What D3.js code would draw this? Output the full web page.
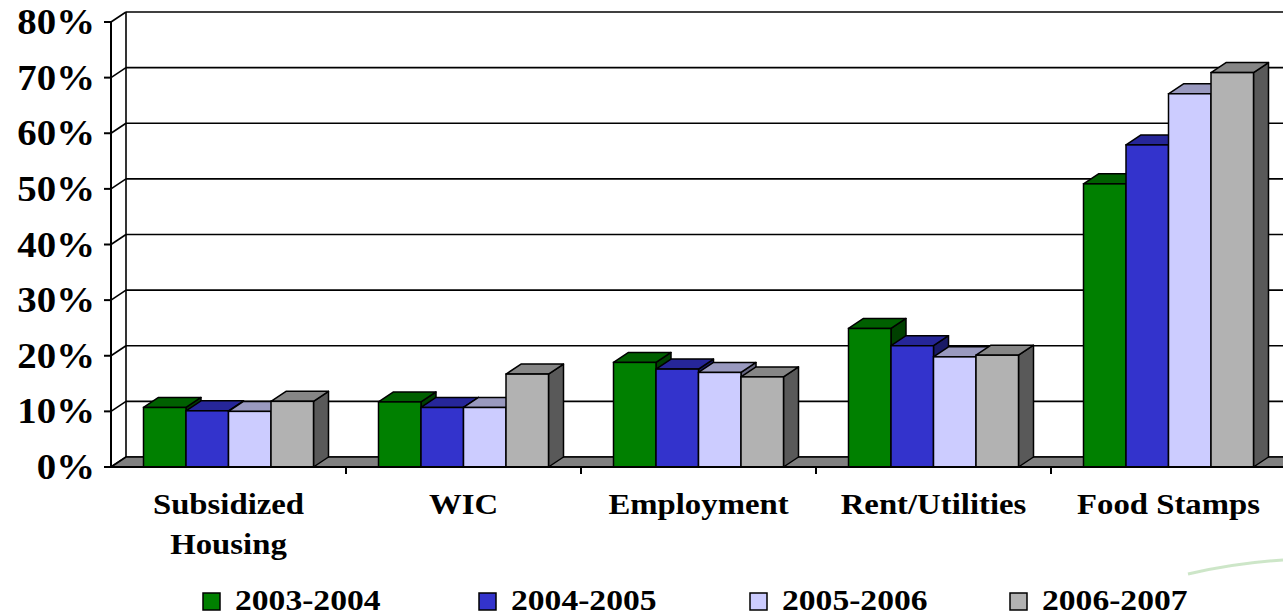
<!DOCTYPE html>
<html>
<head>
<meta charset="utf-8">
<script src="https://cdn.jsdelivr.net/npm/d3@7"></script>
<style>
  html, body { margin: 0; padding: 0; background: #fff; }
  svg { display: block; }
  text { font-family: "Times New Roman", Times, "Liberation Serif", Tinos, serif; font-weight: bold; fill: #000; }
</style>
</head>
<body>
<svg id="chart" width="1283" height="616"></svg>
<script>
const categories = ["Subsidized Housing", "WIC", "Employment", "Rent/Utilities", "Food Stamps"];
const categoryLines = [["Subsidized", "Housing"], ["WIC"], ["Employment"], ["Rent/Utilities"], ["Food Stamps"]];
const seriesNames = ["2003-2004", "2004-2005", "2005-2006", "2006-2007"];
const s2003 = [10.7, 11.7, 18.8, 24.9, 50.9];
const s2004 = [10.1, 10.7, 17.6, 21.8, 57.9];
const s2005 = [10.0, 10.7, 17.0, 19.8, 67.1];
const s2006 = [11.8, 16.7, 16.2, 20.1, 70.9];
const seriesValues = [s2003, s2004, s2005, s2006];
const yTicks = [0, 10, 20, 30, 40, 50, 60, 70, 80];
const colors = ["#008000", "#3333CC", "#CCCCFF", "#B2B2B2"];

const svg = d3.select("#chart");
const W = 1283;
const DX = 15, DY = 10;           // 3D depth offset
const y = d3.scaleLinear().domain([0, 80]).range([467, 22]);
const x0 = d3.scaleBand().domain(categories).range([111, 1286]);
const x1 = d3.scaleBand().domain(seriesNames).range([32.5, 202.5]);

function shade(c, k) {
  const r = d3.rgb(c);
  return d3.rgb(r.r * k, r.g * k, r.b * k).formatHex();
}

// back wall gridlines
const g = svg.append("g");
g.selectAll("line.grid").data(yTicks).join("line")
  .attr("x1", 111 + DX).attr("x2", W + 5)
  .attr("y1", d => y(d) - DY).attr("y2", d => y(d) - DY)
  .attr("stroke", "#000").attr("stroke-width", 1.6);
// back wall left edge
g.append("line").attr("x1", 111 + DX).attr("x2", 111 + DX)
  .attr("y1", y(80) - DY).attr("y2", y(0) - DY)
  .attr("stroke", "#000").attr("stroke-width", 1.6);
// side wall diagonals
g.selectAll("line.diag").data(yTicks).join("line")
  .attr("x1", 111).attr("y1", d => y(d))
  .attr("x2", 111 + DX).attr("y2", d => y(d) - DY)
  .attr("stroke", "#000").attr("stroke-width", 1.6);

// floor
g.append("path")
  .attr("d", `M111,${y(0)} L${111 + DX},${y(0) - DY} L${W + 10},${y(0) - DY} L${W + 10},${y(0)} Z`)
  .attr("fill", "#808080").attr("stroke", "#000").attr("stroke-width", 1.6);

// bars
categories.forEach((cat, ci) => {
  seriesNames.forEach((s, si) => {
    const v = seriesValues[si][ci];
    const xl = x0(cat) + x1(s);
    const w = x1.bandwidth();
    const yt = y(v), yb = y(0);
    const col = colors[si];
    const bg = svg.append("g");
    bg.append("path")
      .attr("d", `M${xl + w},${yb} L${xl + w},${yt} L${xl + w + DX},${yt - DY} L${xl + w + DX},${yb - DY} Z`)
      .attr("fill", shade(col, 0.5)).attr("stroke", "#000").attr("stroke-width", 1.5).attr("stroke-linejoin", "round");
    bg.append("path")
      .attr("d", `M${xl},${yt} L${xl + DX},${yt - DY} L${xl + w + DX},${yt - DY} L${xl + w},${yt} Z`)
      .attr("fill", shade(col, 0.75)).attr("stroke", "#000").attr("stroke-width", 1.5).attr("stroke-linejoin", "round");
    bg.append("rect")
      .attr("x", xl).attr("y", yt).attr("width", w).attr("height", yb - yt)
      .attr("fill", col).attr("stroke", "#000").attr("stroke-width", 1.5);
  });
});

// front axes
svg.append("line").attr("x1", 111).attr("x2", 111).attr("y1", y(80)).attr("y2", y(0))
  .attr("stroke", "#000").attr("stroke-width", 2);
svg.append("line").attr("x1", 111).attr("x2", W + 5).attr("y1", y(0)).attr("y2", y(0))
  .attr("stroke", "#000").attr("stroke-width", 2);
svg.selectAll("line.ytick").data(yTicks).join("line")
  .attr("x1", 104).attr("x2", 111).attr("y1", d => y(d)).attr("y2", d => y(d))
  .attr("stroke", "#000").attr("stroke-width", 2);
svg.selectAll("line.xtick").data(categories.slice(1)).join("line")
  .attr("x1", d => x0(d)).attr("x2", d => x0(d)).attr("y1", y(0)).attr("y2", y(0) + 7)
  .attr("stroke", "#000").attr("stroke-width", 2);

// y labels
svg.selectAll("text.ylab").data(yTicks).join("text")
  .attr("transform", d => `translate(95,${y(d) + 12}) scale(1.11,1)`)
  .attr("text-anchor", "end").style("font-size", "35px")
  .text(d => d + "%");

// x labels
categories.forEach((cat, ci) => {
  const cx = x0(cat) + x0.bandwidth() / 2;
  categoryLines[ci].forEach((line, li) => {
    svg.append("text")
      .attr("transform", `translate(${cx},${514 + li * 40}) scale(1.13,1)`)
      .attr("text-anchor", "middle").style("font-size", "29px")
      .text(line);
  });
});

// legend
const legendX = [203, 479, 750, 1010];
seriesNames.forEach((s, i) => {
  svg.append("rect").attr("x", legendX[i]).attr("y", 593).attr("width", 17).attr("height", 17)
    .attr("fill", colors[i]).attr("stroke", "#000").attr("stroke-width", 1.5);
  svg.append("text")
    .attr("transform", `translate(${legendX[i] + 32},610) scale(1.12,1)`)
    .style("font-size", "30px").text(s);
});

// faint decorative swoosh (bottom right)
svg.append("path")
  .attr("d", "M1188,574 Q1235,563 1283,560")
  .attr("fill", "none").attr("stroke", "#b8dcb0").attr("stroke-width", 3).attr("opacity", 0.7);
</script>
</body>
</html>
